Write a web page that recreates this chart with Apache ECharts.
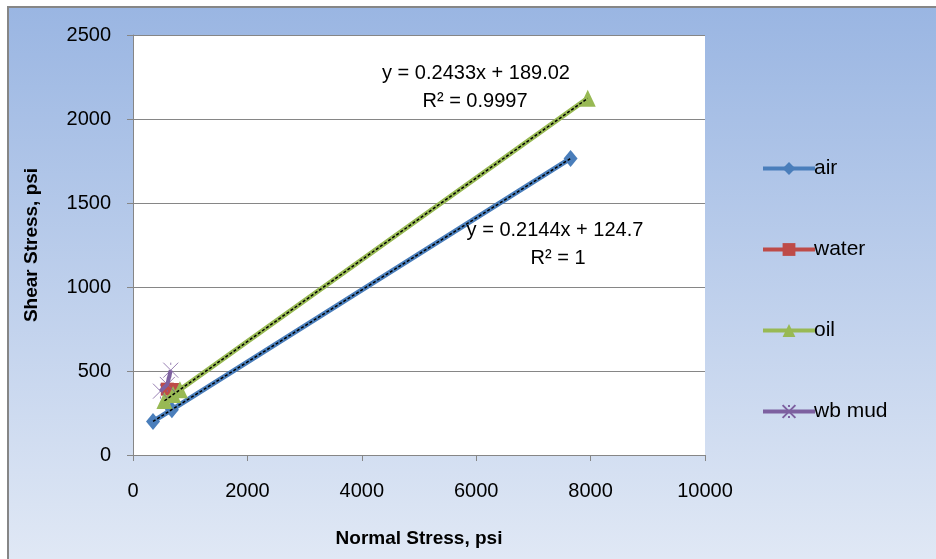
<!DOCTYPE html>
<html>
<head>
<meta charset="utf-8">
<script src="https://cdn.jsdelivr.net/npm/echarts@6/dist/echarts.min.js"></script>
<style>
  html, body { margin: 0; padding: 0; background: #ffffff; }
  #chart { width: 936px; height: 559px; }
</style>
</head>
<body>
<div id="chart"></div>
<script>
// Normal stress (psi) vs shear stress (psi) for each test fluid
const seriesNames = ['air', 'water', 'oil', 'wb mud'];
const airPoints   = [[350, 200], [680, 270], [7650, 1765]];
const waterPoints = [[600, 392], [710, 390]];
const oilPoints   = [[550, 325], [700, 360], [820, 388], [7950, 2123]];
const mudPoints   = [[480, 380], [600, 420], [660, 505]];

// Linear trendline fits: [slope, intercept, R²]
const airFit = [0.2144, 124.7, '1'];
const oilFit = [0.2433, 189.02, '0.9997'];

const xTicks = [0, 2000, 4000, 6000, 8000, 10000];
const yTicks = [0, 500, 1000, 1500, 2000, 2500];

const colors = ['#4a7ebb', '#be4b48', '#98b954', '#7d60a0'];
const labelFont = '"Liberation Sans", Arial, sans-serif';

function trendData(points, fit) {
  const xs = points.map(p => p[0]);
  const x0 = Math.min.apply(null, xs), x1 = Math.max.apply(null, xs);
  return [[x0, fit[0] * x0 + fit[1]], [x1, fit[0] * x1 + fit[1]]];
}
function eqText(fit) {
  return 'y = ' + fit[0] + 'x + ' + fit[1];
}

const crossPath = 'path://M0,0L10,10M10,0L0,10M5,0L5,1.5M5,10L5,8.5';

const chart = echarts.init(document.getElementById('chart'), null, { renderer: 'canvas' });

const option = {
  animation: false,
  backgroundColor: new echarts.graphic.LinearGradient(0, 0, 0, 1, [
    { offset: 0, color: '#99b5e2' },
    { offset: 1, color: '#e0e8f5' }
  ]),
  grid: {
    left: 133, right: 231, top: 35, bottom: 104,
    show: true, backgroundColor: '#ffffff', borderWidth: 0
  },
  xAxis: {
    type: 'value', min: 0, max: 10000, interval: 2000,
    name: 'Normal Stress, psi', nameLocation: 'middle', nameGap: 74,
    nameTextStyle: { fontFamily: labelFont, fontSize: 19, fontWeight: 'bold', color: '#000' },
    axisLine: { show: true, lineStyle: { color: '#868686', width: 1 } },
    axisTick: { show: true, inside: false, length: 6, lineStyle: { color: '#868686' } },
    axisLabel: { margin: 26, fontFamily: labelFont, fontSize: 20, color: '#000',
      formatter: v => xTicks.indexOf(v) >= 0 ? String(v) : '' },
    splitLine: { show: false }
  },
  yAxis: {
    type: 'value', min: 0, max: 2500, interval: 500,
    name: 'Shear Stress, psi', nameLocation: 'middle', nameGap: 92, nameRotate: 90,
    nameTextStyle: { fontFamily: labelFont, fontSize: 19, fontWeight: 'bold', color: '#000' },
    axisLine: { show: true, lineStyle: { color: '#868686', width: 1 } },
    axisTick: { show: true, inside: false, length: 6, lineStyle: { color: '#868686' } },
    axisLabel: { margin: 22, fontFamily: labelFont, fontSize: 20, color: '#000',
      formatter: v => yTicks.indexOf(v) >= 0 ? String(v) : '' },
    splitLine: { show: true, lineStyle: { color: '#868686', width: 1 } }
  },
  legend: {
    data: seriesNames,
    orient: 'vertical',
    left: 756, top: 153,
    itemWidth: 52, itemHeight: 16, itemGap: 60,
    lineStyle: { width: 4 },
    textStyle: { fontFamily: labelFont, fontSize: 21, color: '#000', padding: [0, 0, 0, -6] }
  },
  series: [
    {
      name: 'air', type: 'line', data: airPoints, color: colors[0],
      symbol: 'diamond', symbolSize: [14, 17], showAllSymbol: true,
      lineStyle: { width: 5, color: colors[0] }, itemStyle: { color: colors[0] }, z: 2
    },
    {
      name: 'water', type: 'line', data: waterPoints, color: colors[1],
      symbol: 'rect', symbolSize: 13,
      lineStyle: { width: 5, color: colors[1] }, itemStyle: { color: colors[1] }, z: 3
    },
    {
      name: 'oil', type: 'line', data: oilPoints, color: colors[2],
      symbol: 'triangle', symbolSize: [16, 17],
      lineStyle: { width: 5, color: colors[2] }, itemStyle: { color: colors[2] }, z: 4
    },
    {
      name: 'wb mud', type: 'line', data: mudPoints, color: colors[3],
      symbol: crossPath, symbolSize: 15,
      lineStyle: { width: 4, color: colors[3] },
      itemStyle: { color: 'rgba(0,0,0,0)', borderColor: colors[3], borderWidth: 0.8 }, z: 5
    },
    {
      name: 'air trend', type: 'line', data: trendData(airPoints, airFit),
      symbol: 'none', silent: true, z: 6,
      lineStyle: { color: '#000000', width: 1.5, type: [3, 2] }
    },
    {
      name: 'oil trend', type: 'line', data: trendData(oilPoints, oilFit),
      symbol: 'none', silent: true, z: 6,
      lineStyle: { color: '#000000', width: 1.5, type: [3, 2] }
    }
  ],
  graphic: [
    { type: 'rect', shape: { x: 0, y: 0, width: 936, height: 6 }, style: { fill: '#ffffff' }, silent: true },
    { type: 'rect', shape: { x: 0, y: 0, width: 7, height: 559 }, style: { fill: '#ffffff' }, silent: true },
    { type: 'line', shape: { x1: 7, y1: 7, x2: 936, y2: 7 }, style: { stroke: '#868686', lineWidth: 2 }, silent: true },
    { type: 'line', shape: { x1: 8, y1: 6, x2: 8, y2: 559 }, style: { stroke: '#868686', lineWidth: 2 }, silent: true },
    { type: 'text', x: 476, y: 73, z: 10,
      style: { text: eqText(oilFit), fontFamily: labelFont, fontSize: 20, fill: '#000',
               textAlign: 'center', textVerticalAlign: 'middle' } },
    { type: 'text', x: 475, y: 101, z: 10,
      style: { text: 'R\u00b2 = ' + oilFit[2], fontFamily: labelFont, fontSize: 20, fill: '#000',
               textAlign: 'center', textVerticalAlign: 'middle' } },
    { type: 'text', x: 555, y: 230, z: 10,
      style: { text: eqText(airFit), fontFamily: labelFont, fontSize: 20, fill: '#000',
               textAlign: 'center', textVerticalAlign: 'middle' } },
    { type: 'text', x: 558, y: 258, z: 10,
      style: { text: 'R\u00b2 = ' + airFit[2], fontFamily: labelFont, fontSize: 20, fill: '#000',
               textAlign: 'center', textVerticalAlign: 'middle' } }
  ]
};

chart.setOption(option);
</script>
</body>
</html>
